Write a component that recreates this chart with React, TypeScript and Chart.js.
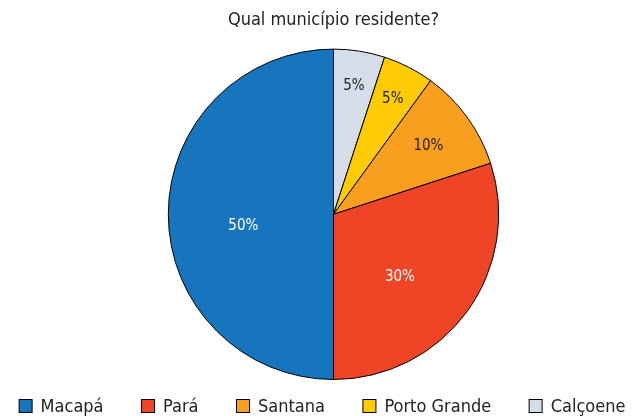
import React, { useEffect, useRef } from "react";
import { Chart, registerables } from "chart.js";

Chart.register(...registerables);

const categories = ["Macapá", "Pará", "Santana", "Porto Grande", "Calçoene"];
const values = [50, 30, 10, 5, 5];
const colors = ["#1775bd", "#f04426", "#f99f1f", "#ffcb05", "#d5dee8"];
const labelColors = ["#ffffff", "#ffffff", "#222222", "#222222", "#222222"];
const titleText = "Qual município residente?";

const FONT = "'DejaVu Sans Condensed', 'DejaVu Sans', sans-serif";

const labelPlugin = {
  id: "sliceLabels",
  afterDatasetsDraw(chart: any) {
    const ctx = chart.ctx;
    const meta = chart.getDatasetMeta(0);
    const data = chart.data.datasets[0].data as number[];
    const total = data.reduce((a, b) => a + b, 0);
    const txtColors = chart.data.datasets[0].labelColors as string[];
    ctx.save();
    ctx.font = `15px ${FONT}`;
    ctx.textAlign = "center";
    ctx.textBaseline = "middle";
    meta.data.forEach((arc: any, i: number) => {
      const { x, y, startAngle, endAngle, outerRadius } = arc.getProps(
        ["x", "y", "startAngle", "endAngle", "outerRadius"],
        true
      );
      const pct = (data[i] / total) * 100;
      const f = Math.max(0.55, 0.87 - 0.016 * pct);
      let mid = (startAngle + endAngle) / 2;
      if (pct >= 25) {
        // large slices: nudge label toward the bottom of the pie
        const toward = Math.PI / 2;
        const shift = (7 * Math.PI) / 180;
        mid += mid > toward ? -shift : shift;
      }
      const r = outerRadius * f;
      ctx.fillStyle = txtColors[i];
      ctx.fillText(`${Math.round(pct)}%`, x + Math.cos(mid) * r, y + Math.sin(mid) * r + 1);
    });
    ctx.restore();
  },
};

// Custom bottom legend (legend order = categories order)
const legendPlugin = {
  id: "bottomLegend",
  afterDraw(chart: any) {
    const ctx = chart.ctx;
    const box = 14;
    const gap = 8;
    const spacing = 37.5;
    ctx.save();
    ctx.font = `18px ${FONT}`;
    ctx.textBaseline = "middle";
    ctx.textAlign = "left";
    const widths = categories.map((c) => ctx.measureText(c).width);
    const total =
      widths.reduce((a, b) => a + b, 0) + categories.length * (box + gap) + (categories.length - 1) * spacing;
    let x = 322 - total / 2;
    const cy = chart.height - 10;
    categories.forEach((c, i) => {
      ctx.fillStyle = colors[i];
      ctx.fillRect(x + 0.5, cy - box / 2 + 0.5, box - 1, box - 1);
      ctx.strokeStyle = "#000000";
      ctx.lineWidth = 1;
      ctx.strokeRect(x + 0.5, cy - box / 2 + 0.5, box - 1, box - 1);
      ctx.fillStyle = "#222222";
      ctx.fillText(c, x + box + gap, cy + 1);
      x += box + gap + widths[i] + spacing;
    });
    ctx.restore();
  },
};

export default function App() {
  const ref = useRef<HTMLCanvasElement | null>(null);
  useEffect(() => {
    document.body.style.margin = "0";
    const rev = <T,>(a: T[]) => a.slice().reverse();
    const chart = new Chart(ref.current!, {
      type: "pie",
      data: {
        labels: rev(categories),
        datasets: [
          {
            data: rev(values),
            backgroundColor: rev(colors),
            borderColor: "#000000",
            borderWidth: 1,
            labelColors: rev(labelColors),
          } as any,
        ],
      },
      options: {
        animation: false,
        responsive: false,
        layout: { padding: { top: 0, bottom: 36, left: 26, right: 0 } },
        plugins: {
          title: {
            display: true,
            text: titleText,
            color: "#222222",
            font: { family: FONT, size: 18, weight: "normal" },
            padding: { top: 10, bottom: 17 },
          },
          legend: { display: false },
          tooltip: { enabled: false },
        },
      },
      plugins: [labelPlugin, legendPlugin],
    });
    return () => chart.destroy();
  }, []);
  return <canvas ref={ref} width={641} height={416} style={{ display: "block" }} />;
}
